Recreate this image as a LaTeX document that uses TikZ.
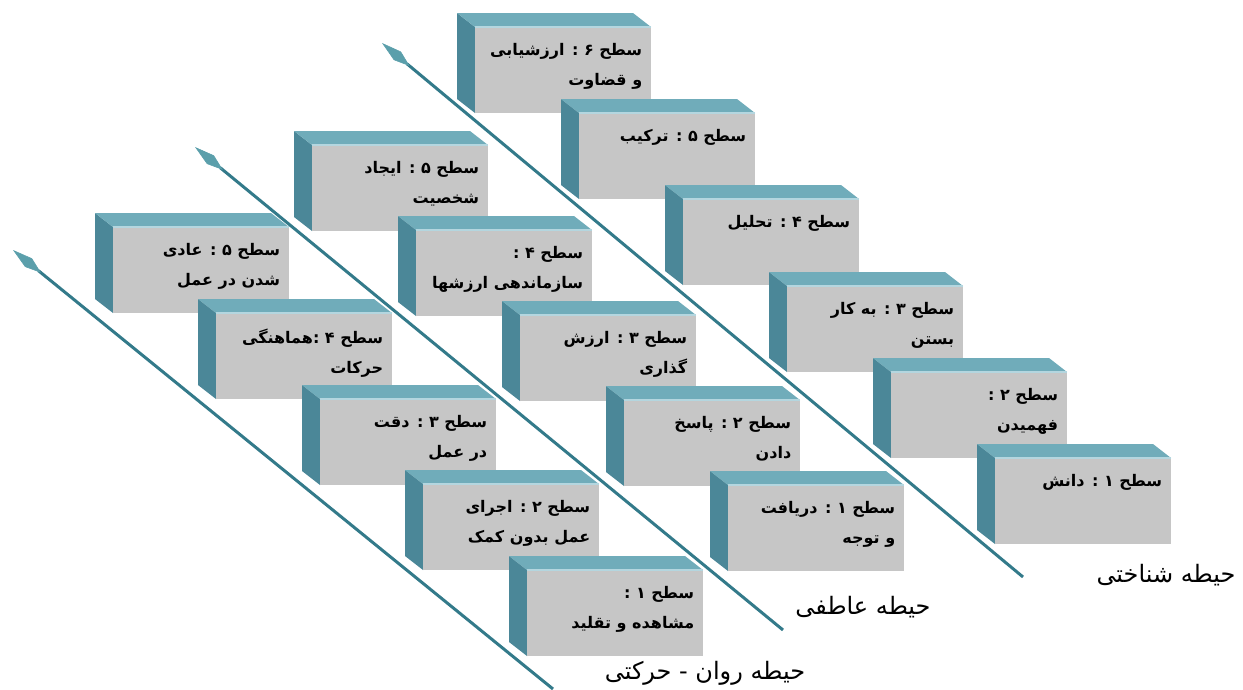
\documentclass[tikz,border=0pt]{standalone}
\usepackage{fontspec}
\newfontfamily\arabicfont[Script=Arabic]{DejaVu Sans}
\TeXXeTstate=1
\usetikzlibrary{arrows.meta}

\definecolor{boxfront}{HTML}{C6C6C6}
\definecolor{boxside}{HTML}{4B8798}
\definecolor{boxtop}{HTML}{70ACBA}
\definecolor{boxedge}{HTML}{B4D6DF}
\definecolor{axisline}{HTML}{337A8A}
\definecolor{axishead}{HTML}{5B9FAB}

\tikzset{
  boxfront/.style={fill=boxfront, minimum width=176pt, minimum height=86pt, inner sep=0pt, anchor=north west},
  boxside/.style={fill=boxside},
  boxtop/.style={fill=boxtop},
  leveltext/.style={font=\arabicfont\bfseries\fontsize{16}{30}\selectfont, align=right, anchor=north east, inner sep=0pt},
  domainaxis/.style={draw=axisline, line width=3pt, -{Kite[length=36pt,width=11pt,inset=16pt,line width=0.6pt,color=axishead]}},
  domainlabel/.style={font=\arabicfont\fontsize{24}{28}\selectfont}
}

% one level: name, x, y of the front top-left corner, text
\newcommand{\levelbox}[4]{%
  \fill[boxside] (#2,#3) -- ++(-18,-14) -- ++(0,86) -- ++(18,14) -- cycle;
  \fill[boxtop] (#2,#3) -- ++(-18,-14) -- ++(176,0) -- ++(18,14) -- cycle;
  \node[boxfront] (#1) at (#2,#3) {};
  \draw[boxedge, line width=1.2pt] (#1.north west) -- (#1.north east);
  \node[leveltext] at ([xshift=-9pt,yshift=-16pt]#1.north east) {#4};
}

\begin{document}
\begin{tikzpicture}[x=1pt,y=-1pt]
  \useasboundingbox (0,0) rectangle (1243,689);

  % axes
  \coordinate (coghead) at (382,43);
  \coordinate (cogtail) at (1023,577);
  \coordinate (affhead) at (195,147);
  \coordinate (afftail) at (783,630);
  \coordinate (psyhead) at (13,250);
  \coordinate (psytail) at (553,689);
  \draw[domainaxis] (cogtail) -- (coghead);
  \draw[domainaxis] (afftail) -- (affhead);
  \draw[domainaxis] (psytail) -- (psyhead);

  % cognitive
  \levelbox{cog6}{475}{27}{\beginR سطح ۶ : ارزشیابی\endR\\\beginR و قضاوت\endR}
  \levelbox{cog5}{579}{113}{\beginR سطح ۵ : ترکیب\endR}
  \levelbox{cog4}{683}{199}{\beginR سطح ۴ : تحلیل\endR}
  \levelbox{cog3}{787}{286}{\beginR سطح ۳ : به کار\endR\\\beginR بستن\endR}
  \levelbox{cog2}{891}{372}{\beginR سطح ۲ :\endR\\\beginR فهمیدن\endR}
  \levelbox{cog1}{995}{458}{\beginR سطح ۱ : دانش\endR}

  % affective
  \levelbox{aff5}{312}{145}{\beginR سطح ۵ : ایجاد\endR\\\beginR شخصیت\endR}
  \levelbox{aff4}{416}{230}{\beginR سطح ۴ :\endR\\\beginR سازماندهی ارزشها\endR}
  \levelbox{aff3}{520}{315}{\beginR سطح ۳ : ارزش\endR\\\beginR گذاری\endR}
  \levelbox{aff2}{624}{400}{\beginR سطح ۲ : پاسخ\endR\\\beginR دادن\endR}
  \levelbox{aff1}{728}{485}{\beginR سطح ۱ : دریافت\endR\\\beginR و توجه\endR}

  % psychomotor
  \levelbox{psy5}{113}{227}{\beginR سطح ۵ : عادی\endR\\\beginR شدن در عمل\endR}
  \levelbox{psy4}{216}{313}{\beginR سطح ۴ :هماهنگی\endR\\\beginR حرکات\endR}
  \levelbox{psy3}{320}{399}{\beginR سطح ۳ : دقت\endR\\\beginR در عمل\endR}
  \levelbox{psy2}{423}{484}{\beginR سطح ۲ : اجرای\endR\\\beginR عمل بدون کمک\endR}
  \levelbox{psy1}{527}{570}{\beginR سطح ۱ :\endR\\\beginR مشاهده و تقلید\endR}

  % domain labels
  \node[domainlabel] (cogname) at (1166,575) {\beginR حیطه شناختی\endR};
  \node[domainlabel] (affname) at (863,607) {\beginR حیطه عاطفی\endR};
  \node[domainlabel] (psyname) at (705,673) {\beginR حیطه روان - حرکتی\endR};
\end{tikzpicture}
\end{document}
